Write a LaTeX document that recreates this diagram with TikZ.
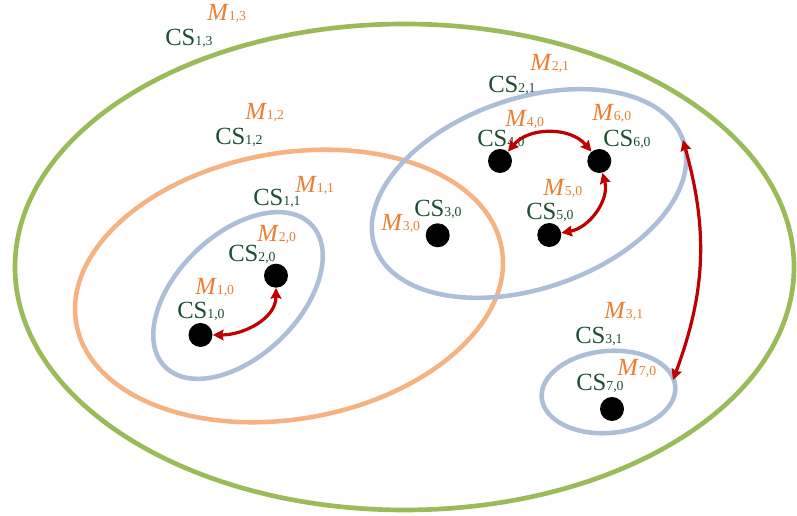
\documentclass[tikz,border=0pt]{standalone}
\usepackage{fontspec}
\setmainfont{Liberation Serif}
\usetikzlibrary{arrows.meta}
\definecolor{loopgreen}{RGB}{155,187,89}
\definecolor{looporange}{RGB}{246,178,128}
\definecolor{loopblue}{RGB}{173,190,217}
\definecolor{arcred}{RGB}{192,0,0}
\definecolor{csgreen}{RGB}{30,77,48}
\definecolor{morange}{RGB}{237,125,49}
\newcommand{\subsz}{\fontsize{10.3}{12}\selectfont}
\newcommand{\CSlab}[1]{CS{\subsz #1}}
\newcommand{\Mlab}[1]{\textit{M}{\subsz #1}}
\tikzset{
  csdot/.style={circle, fill=black, minimum size=18pt, inner sep=0pt},
  cslbl/.style={anchor=base west, inner sep=0pt, text=csgreen, font=\fontsize{18.5}{20}\selectfont},
  mlbl/.style={anchor=base west, inner sep=0pt, text=morange, font=\fontsize{18.5}{20}\selectfont},
  greenloop/.style={draw=loopgreen, line width=3.5pt},
  orangeloop/.style={draw=looporange, line width=3.4pt},
  blueloop/.style={draw=loopblue, line width=3.4pt},
  redarc/.style={draw=arcred, line width=2.4pt, {Stealth[length=8pt,width=8pt,inset=1pt]}-{Stealth[length=8pt,width=8pt,inset=1pt]}}
}
\begin{document}
\begin{tikzpicture}[x=0.75pt,y=0.75pt]
\useasboundingbox (0,0) rectangle (797,516);
% levels
\draw[greenloop] (404.5,249) ellipse [x radius=389.5, y radius=243];
\draw[orangeloop, rotate around={10:(289,230)}] (289,230) ellipse [x radius=216, y radius=133];
\draw[blueloop, rotate around={44:(238,220.5)}] (238,220.5) ellipse [x radius=102, y radius=61];
\draw[blueloop, rotate around={19:(529,322.5)}] (529,322.5) ellipse [x radius=163, y radius=95];
\draw[blueloop, rotate around={5:(608.5,124)}] (608.5,124) ellipse [x radius=67, y radius=41];
% agents
\node[csdot] (d10) at (200.5,181) {};
\node[csdot] (d20) at (276,240.3) {};
\node[csdot] (d30) at (437.7,280.7) {};
\node[csdot] (d40) at (500,355) {};
\node[csdot] (d50) at (549.3,281) {};
\node[csdot] (d60) at (599.3,355) {};
\node[csdot] (d70) at (612,107) {};
% labels
\node[cslbl] (cs13) at (165,470) {\CSlab{1,3}};
\node[mlbl] (m13) at (207,495.3) {\Mlab{1,3}};
\node[cslbl] (cs12) at (215,371.7) {\CSlab{1,2}};
\node[mlbl] (m12) at (245,396) {\Mlab{1,2}};
\node[cslbl] (cs11) at (253,310) {\CSlab{1,1}};
\node[mlbl] (m11) at (295,323.3) {\Mlab{1,1}};
\node[cslbl] (cs10) at (177,197) {\CSlab{1,0}};
\node[mlbl] (m10) at (195,221) {\Mlab{1,0}};
\node[cslbl] (cs20) at (228,254.3) {\CSlab{2,0}};
\node[mlbl] (m20) at (257,274) {\Mlab{2,0}};
\node[cslbl] (cs30) at (414,299) {\CSlab{3,0}};
\node[mlbl] (m30) at (381,285.3) {\Mlab{3,0}};
\node[cslbl] (cs21) at (488,423.3) {\CSlab{2,1}};
\node[mlbl] (m21) at (530,445.3) {\Mlab{2,1}};
\node[cslbl] (cs40) at (477,369.3) {\CSlab{4,0}};
\node[mlbl] (m40) at (505,389) {\Mlab{4,0}};
\node[cslbl] (cs60) at (603,369.3) {\CSlab{6,0}};
\node[mlbl] (m60) at (592,395.3) {\Mlab{6,0}};
\node[cslbl] (cs50) at (526,296) {\CSlab{5,0}};
\node[mlbl] (m50) at (543,320) {\Mlab{5,0}};
\node[cslbl] (cs31) at (575,172) {\CSlab{3,1}};
\node[mlbl] (m31) at (604,197) {\Mlab{3,1}};
\node[cslbl] (cs70) at (576,125.3) {\CSlab{7,0}};
\node[mlbl] (m70) at (617,140) {\Mlab{7,0}};
% merges
\draw[redarc] (d10) to[out=0, in=-90] (d20);
\draw[redarc] (d40) to[out=50, in=130] (d60);
\draw[redarc] (d50) to[out=10, in=-75] (d60);
\coordinate (e21) at (683,376);
\coordinate (e31) at (673,136);
\draw[redarc] (e21) to[bend left=18] (e31);
\end{tikzpicture}
\end{document}
